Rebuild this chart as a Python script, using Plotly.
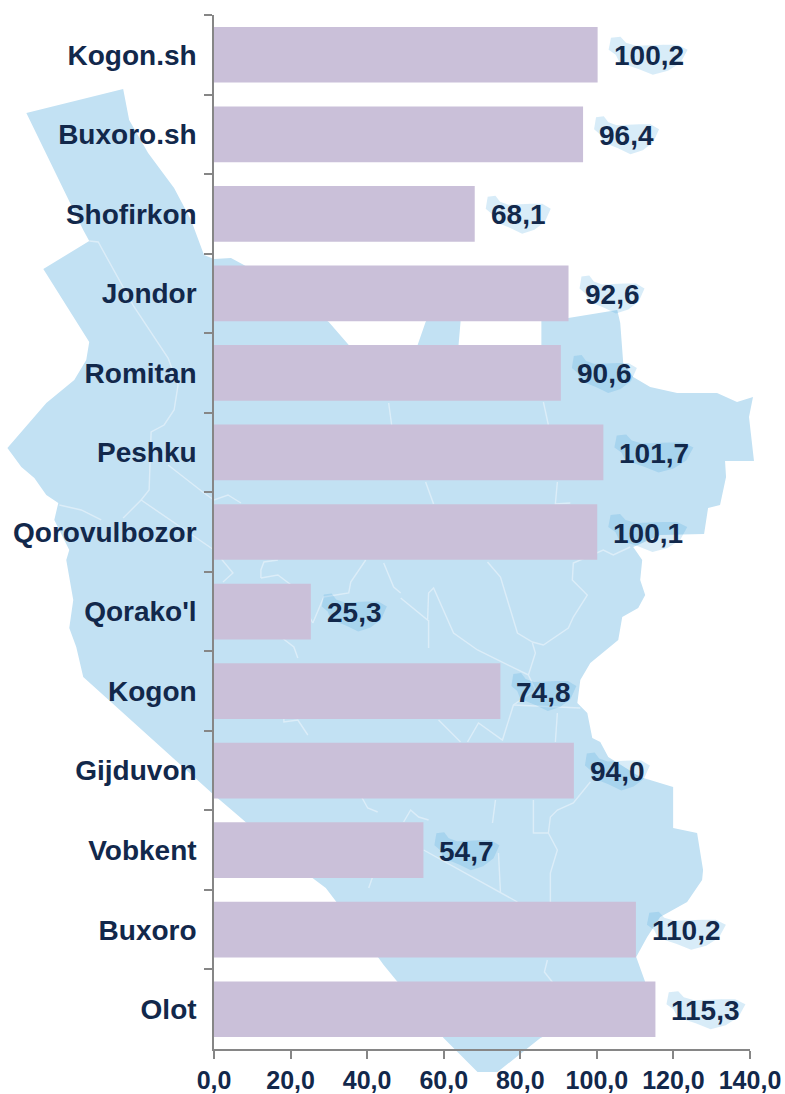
import plotly.graph_objects as go

categories = ["Kogon.sh", "Buxoro.sh", "Shofirkon", "Jondor", "Romitan", "Peshku", "Qorovulbozor",
              "Qorako'l", "Kogon", "Gijduvon", "Vobkent", "Buxoro", "Olot"]
values = [100.2, 96.4, 68.1, 92.6, 90.6, 101.7, 100.1, 25.3, 74.8, 94.0, 54.7, 110.2, 115.3]
x_ticks = [0, 20, 40, 60, 80, 100, 120, 140]

W, H = 785, 1094
L, R, T, B = 213, 750, 15, 1049
TEXT = "#12284B"
AXIS = "#868686"
BAR = "#CAC0D9"
MAP = "#C2E1F3"
BORDER = "#DCEDF8"

# decorative background map, traced in page pixels
map_outline = [
    (25,113),(122,89),(128,120),(147,153),(173,188),(190,220),(203,255),(213,259),(230,258),(243,265),
    (328,322),(348,345),(375,385),(410,385),(417,345),(425,322),(440,300),(460,300),(460,322),(458,345),
    (458,385),(541,385),(541,345),(541,320),(568,318),(617,310),(620,323),(623,363),(633,377),(650,387),
    (677,393),(717,393),(737,402),(753,397),(749,417),(754,461),(725,461),(726,477),(720,505),(708,508),
    (704,534),(660,535),(633,547),(642,560),(640,580),(645,595),(638,608),(622,617),(618,640),(590,663),
    (580,680),(577,703),(587,713),(592,738),(600,742),(608,757),(640,777),(673,787),(673,828),(697,833),
    (703,870),(702,880),(687,902),(660,917),(647,937),(636,957),(645,982),(600,1010),(540,1038),(497,1072),
    (477,1072),(443,1038),(383,965),(367,943),(325,888),(297,867),(233,812),(213,795),(82,677),(75,647),
    (68,628),(72,600),(65,560),(68,550),(53,520),(57,503),(45,495),(33,478),(20,467),(6,448),
    (45,403),(73,380),(85,360),(88,342),(42,269),(88,241),(82,230),
]
map_borders = [
    [(88,241),(97,242),(133,307),(167,358),(177,385),(173,410),(163,425),(150,432),(148,490),(140,500),(122,518)],
    [(167,465),(203,493),(213,500),(227,495),(240,503)],
    [(58,505),(80,510),(100,520)],
    [(140,500),(213,550),(232,573),(222,582)],
    [(388,403),(391,425)],
    [(543,402),(548,425)],
    [(425,482),(433,504)],
    [(557,482),(555,504),(570,503)],
    [(630,547),(613,555),(603,550),(573,563),(572,580),(587,595),(573,617),(568,628),(543,645),(532,642),(517,633),(500,577),(487,562)],
    [(400,598),(427,620),(428,593),(433,588),(453,633),(477,650),(528,675),(535,653),(532,643)],
    [(428,620),(428,648)],
    [(528,675),(535,690),(513,705),(502,740),(478,723),(467,742)],
    [(438,720),(460,742)],
    [(513,705),(580,708)],
    [(557,713),(555,742)],
    [(495,800),(492,823)],
    [(533,800),(533,833),(548,833),(550,817),(557,810),(573,803),(590,782)],
    [(548,833),(557,850),(550,873),(550,902)],
    [(498,853),(500,892)],
    [(423,850),(517,902)],
    [(428,820),(418,817),(410,810),(403,822)],
    [(547,960),(544,972),(552,982)],
    [(260,578),(260,570),(263,562),(277,560)],
    [(260,578),(277,575),(293,587),(312,623)],
    [(280,637),(293,647),(297,658)],
    [(365,560),(350,582),(348,593),(323,597),(312,623)],
    [(383,563),(393,587),(400,593)],
    [(283,713),(283,722),(297,720),(307,735)],
    [(357,790),(367,808),(377,812)],
    [(368,888),(375,868),(400,865)],
]
# splash behind each value label: (fraction of width, px above bar centre)
splash = [(0.03,17),(0.15,18),(0.22,12),(0.35,9),(0.7,10),(0.87,10),(1.0,5),(0.91,-8),(0.75,-16),(0.56,-20),(0.37,-14),(0.14,-8),(0.09,0),(0.0,5)]

def px(p):
    return (p[0]-L)/(R-L), (B-p[1])/(B-T)

def svg(points, close=False):
    s = "M" + " L".join(f"{a:.5f},{b:.5f}" for a, b in points)
    return s + (" Z" if close else "")

shapes = [dict(type="path", xref="paper", yref="paper", layer="below", path=svg([px(p) for p in map_outline], True),
               fillcolor=MAP, line=dict(width=0))]
for b in map_borders:
    shapes.append(dict(type="path", xref="paper", yref="paper", layer="below", path=svg([px(p) for p in b]),
                       line=dict(color=BORDER, width=1.4)))

annotations = []
for i, (c, v) in enumerate(zip(categories, values)):
    label = f"{v:.1f}".replace(".", ",")
    width = 79 if v >= 100 else 65
    shapes.append(dict(type="path", xref="x", yref="y", layer="below", xsizemode="pixel", ysizemode="pixel",
                       xanchor=v, yanchor=i,
                       path=svg([(11+fx*width, fy) for fx, fy in splash], True),
                       fillcolor="rgba(60,160,220,0.2)", line=dict(width=0)))
    annotations.append(dict(x=v, y=c, xref="x", yref="y", text=f"<b>{label}</b>", showarrow=False,
                            xanchor="left", yanchor="middle", xshift=14, yshift=-1,
                            font=dict(family="Liberation Sans", size=28, color=TEXT)))

fig = go.Figure(go.Bar(x=values, y=categories, orientation="h", marker=dict(color=BAR, line=dict(width=0))))
fig.update_layout(
    width=W, height=H, autosize=False, showlegend=False,
    margin=dict(l=L+1, r=W-R, t=T, b=H-B, autoexpand=False),
    paper_bgcolor="white", plot_bgcolor="rgba(0,0,0,0)",
    bargap=0.3, separators=", ", shapes=shapes, annotations=annotations,
    font=dict(family="Liberation Sans", color=TEXT),
)
fig.update_xaxes(range=[0, 140], tickvals=x_ticks, tickformat=".1f", showgrid=False, zeroline=False,
                 automargin=False, ticklabeloverflow="allow",
                 showline=True, linecolor=AXIS, linewidth=1.6, ticks="outside", ticklen=8, tickcolor=AXIS, tickwidth=1.6,
                 tickfont=dict(family="Liberation Sans", size=25, color=TEXT, weight="bold"))
fig.update_yaxes(categoryorder="array", categoryarray=categories, range=[12.5, -0.5], tickson="boundaries",
                 automargin=False,
                 showgrid=False, zeroline=False, showline=True, linecolor=AXIS, linewidth=1.6, ticks="outside", ticklen=8,
                 tickcolor=AXIS, tickwidth=1.6, ticklabelstandoff=10,
                 tickfont=dict(family="Liberation Sans", size=28, color=TEXT, weight="bold"))
fig.write_html("out.html", config=dict(displayModeBar=False),
               post_script="document.body.style.margin='0';document.documentElement.style.overflow='hidden';")
